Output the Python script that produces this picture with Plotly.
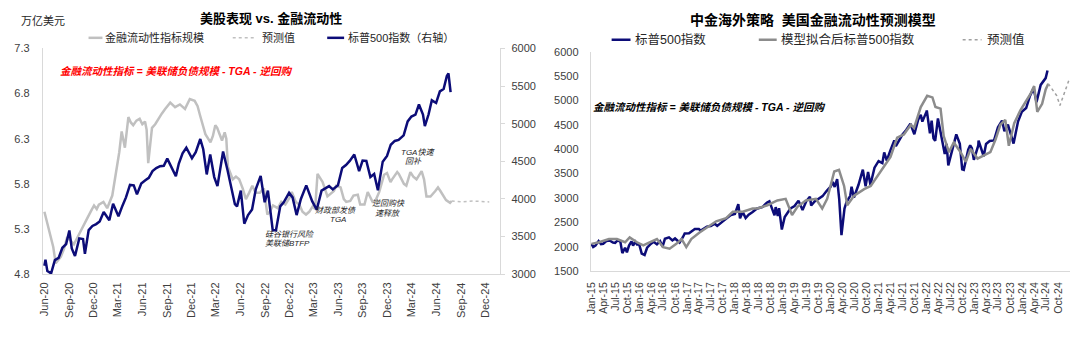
import plotly.graph_objects as go

# ---------------- data: left chart ----------------
liq_dates = ["2020-06-01","2020-06-13","2020-06-24","2020-07-04","2020-07-13","2020-07-22","2020-08-01","2020-08-13",
 "2020-08-25","2020-09-07","2020-09-19","2020-10-01","2020-10-14","2020-10-25","2020-11-08","2020-11-22","2020-12-03",
 "2020-12-13","2020-12-21","2021-01-07","2021-01-21","2021-02-09","2021-02-26","2021-03-07","2021-03-16","2021-03-28",
 "2021-04-10","2021-04-19","2021-04-28","2021-05-10","2021-05-22","2021-06-01","2021-06-11","2021-06-17","2021-06-23",
 "2021-07-01","2021-07-07","2021-07-19","2021-07-30","2021-08-13","2021-08-25","2021-09-13","2021-10-01","2021-10-19",
 "2021-11-07","2021-11-25","2021-12-13","2021-12-24","2022-01-02","2022-01-13","2022-01-22","2022-02-10","2022-02-19",
 "2022-02-28","2022-03-07","2022-03-16","2022-03-25","2022-04-04","2022-04-10","2022-04-16","2022-05-04","2022-05-16",
 "2022-05-28","2022-06-10","2022-06-22","2022-07-04","2022-07-16","2022-07-28","2022-08-13","2022-08-28","2022-09-10",
 "2022-09-19","2022-10-01","2022-10-19","2022-11-01","2022-11-16","2022-12-01","2022-12-10","2022-12-25","2023-01-07",
 "2023-01-19","2023-02-01","2023-02-13","2023-02-26","2023-03-07","2023-03-16","2023-04-04","2023-04-22","2023-05-01",
 "2023-05-16","2023-05-25","2023-06-10","2023-06-22","2023-07-01","2023-07-16","2023-07-28","2023-08-13","2023-08-22",
 "2023-09-07","2023-09-19","2023-10-07","2023-10-19","2023-11-01","2023-11-10","2023-11-19","2023-11-30","2023-12-13",
 "2023-12-19","2024-01-07","2024-01-13","2024-02-01","2024-02-10","2024-02-25","2024-03-07","2024-03-19","2024-04-07",
 "2024-04-16","2024-04-25","2024-05-10","2024-05-28","2024-06-07","2024-06-16","2024-06-28","2024-07-07","2024-07-22",
 "2024-07-28"]
liq_vals = [5.49,5.35,5.21,5.10,4.92,4.95,4.99,5.08,
 5.21,5.17,5.13,5.20,5.28,5.35,5.42,5.50,5.56,
 5.52,5.57,5.60,5.53,5.67,5.99,6.15,6.38,6.20,
 6.54,6.48,6.45,6.50,6.52,6.46,6.49,6.40,6.03,
 6.25,6.42,6.46,6.52,6.58,6.63,6.70,6.65,6.68,
 6.63,6.74,6.72,6.66,6.56,6.45,6.35,6.26,6.33,
 6.45,6.42,6.35,6.28,6.37,6.30,5.99,5.85,5.88,
 5.85,5.75,5.63,5.70,5.78,5.70,5.70,5.75,5.46,
 5.49,5.56,5.53,5.60,5.57,5.64,5.71,5.60,5.57,
 5.49,5.46,5.49,5.55,5.52,5.91,5.82,5.66,5.68,
 5.72,5.78,5.76,5.63,5.60,5.61,5.67,5.68,5.57,
 5.57,5.71,5.60,5.62,5.71,5.82,5.90,5.92,5.82,
 5.85,5.93,5.91,5.80,5.78,5.93,5.88,5.85,5.94,
 5.85,5.66,5.66,5.72,5.76,5.72,5.66,5.62,5.59,
 5.61]
liq_fc_dates = ["2024-07-28","2024-09-01","2024-10-15","2024-12-15"]
liq_fc_vals = [5.61,5.60,5.61,5.60]

spx_l_dates = ["2020-06-01","2020-06-05","2020-06-12","2020-06-26","2020-07-10","2020-07-24","2020-08-07","2020-08-21",
 "2020-09-02","2020-09-11","2020-09-23","2020-10-09","2020-10-23","2020-10-30","2020-11-13","2020-11-27","2020-12-11",
 "2020-12-24","2021-01-08","2021-01-29","2021-02-12","2021-03-04","2021-03-19","2021-04-01","2021-04-16","2021-04-30",
 "2021-05-12","2021-05-28","2021-06-11","2021-06-25","2021-07-09","2021-07-23","2021-08-06","2021-08-20","2021-09-02",
 "2021-09-17","2021-10-04","2021-10-15","2021-10-29","2021-11-12","2021-11-26","2021-12-03","2021-12-17","2021-12-31",
 "2022-01-03","2022-01-14","2022-01-27","2022-02-09","2022-02-24","2022-03-08","2022-03-29","2022-04-14","2022-04-29",
 "2022-05-12","2022-05-20","2022-06-03","2022-06-16","2022-06-30","2022-07-15","2022-07-29","2022-08-16","2022-08-31",
 "2022-09-12","2022-09-30","2022-10-12","2022-10-28","2022-11-10","2022-11-30","2022-12-13","2022-12-28","2023-01-13",
 "2023-02-02","2023-02-24","2023-03-13","2023-03-31","2023-04-14","2023-04-28","2023-05-12","2023-05-31","2023-06-16",
 "2023-06-30","2023-07-14","2023-07-31","2023-08-18","2023-08-31","2023-09-14","2023-09-29","2023-10-13","2023-10-27",
 "2023-11-14","2023-11-30","2023-12-14","2023-12-29","2024-01-12","2024-01-31","2024-02-15","2024-02-29","2024-03-15",
 "2024-03-28","2024-04-12","2024-04-19","2024-05-03","2024-05-15","2024-05-31","2024-06-14","2024-06-28","2024-07-10",
 "2024-07-16","2024-07-24"]
spx_l_vals = [3110,3190,3040,3010,3185,3215,3350,3400,
 3580,3340,3240,3475,3465,3270,3585,3640,3665,
 3700,3825,3715,3935,3770,3910,4020,4185,4180,
 4060,4205,4245,4280,4370,4410,4435,4440,4535,
 4430,4300,4470,4605,4680,4595,4540,4620,4766,
 4796,4660,4325,4590,4290,4170,4630,4390,4130,
 3930,3900,4110,3670,3785,3860,4130,4305,3955,
 4110,3585,3580,3900,3955,4080,4020,3785,3999,
 4180,3970,3855,4110,4140,4170,4125,4180,4410,
 4450,4505,4590,4370,4510,4505,4290,4330,4115,
 4495,4570,4720,4770,4785,4845,5030,5095,5120,
 5255,5120,4967,5125,5310,5275,5430,5460,5635,
 5667,5420]

# ---------------- data: right chart ----------------
spx_r_dates = ["2015-01-02","2015-01-15","2015-02-01","2015-02-25","2015-03-15","2015-04-01","2015-04-25","2015-05-20",
 "2015-06-15","2015-07-01","2015-07-20","2015-08-10","2015-08-25","2015-09-15","2015-09-29","2015-10-15","2015-11-03",
 "2015-11-15","2015-12-01","2015-12-15","2016-01-01","2016-01-20","2016-02-11","2016-03-01","2016-03-31","2016-04-20",
 "2016-05-15","2016-06-08","2016-06-27","2016-07-15","2016-08-15","2016-09-10","2016-09-30","2016-11-04","2016-11-30",
 "2016-12-13","2017-01-15","2017-02-28","2017-03-31","2017-04-15","2017-05-31","2017-06-30","2017-07-31","2017-08-18",
 "2017-09-30","2017-10-31","2017-11-30","2017-12-31","2018-01-26","2018-02-08","2018-02-28","2018-03-23","2018-04-15",
 "2018-05-15","2018-06-15","2018-07-31","2018-08-31","2018-09-20","2018-10-29","2018-11-07","2018-11-23","2018-12-03",
 "2018-12-24","2019-01-15","2019-02-28","2019-03-31","2019-04-30","2019-05-31","2019-06-30","2019-07-26","2019-08-05",
 "2019-08-31","2019-09-30","2019-10-31","2019-11-30","2019-12-31","2020-01-17","2020-01-31","2020-02-19","2020-03-06",
 "2020-03-23","2020-04-15","2020-04-30","2020-05-29","2020-06-08","2020-06-26","2020-07-31","2020-09-02","2020-09-23",
 "2020-10-12","2020-10-30","2020-11-30","2020-12-31","2021-01-29","2021-02-12","2021-03-04","2021-03-31","2021-04-30",
 "2021-05-12","2021-06-30","2021-07-30","2021-08-31","2021-09-30","2021-10-29","2021-11-18","2021-11-30","2021-12-31",
 "2022-01-03","2022-01-27","2022-02-09","2022-02-23","2022-03-08","2022-03-29","2022-04-14","2022-05-06","2022-05-20",
 "2022-06-03","2022-06-16","2022-07-08","2022-08-16","2022-09-12","2022-09-30","2022-10-12","2022-11-15","2022-11-30",
 "2022-12-13","2022-12-28","2023-01-31","2023-02-02","2023-03-13","2023-03-31","2023-04-28","2023-05-31","2023-06-30",
 "2023-07-31","2023-08-18","2023-09-14","2023-10-27","2023-11-30","2023-12-29","2024-01-31","2024-02-29","2024-03-28",
 "2024-04-19","2024-05-21","2024-06-28","2024-07-12"]
spx_r_vals = [2058,1992,2020,2115,2053,2060,2117,2126,
 2084,2077,2128,2104,1867,1978,1884,2023,2109,
 2023,2102,2043,2044,1859,1829,1978,2060,2102,
 2047,2112,2001,2162,2190,2128,2168,2085,2199,
 2271,2275,2364,2363,2329,2412,2423,2470,2425,
 2519,2575,2647,2673,2872,2581,2713,2588,2656,
 2711,2779,2816,2901,2930,2641,2813,2632,2790,
 2351,2610,2784,2834,2945,2752,2941,3025,2844,
 2926,2976,3037,3141,3231,3330,3225,3386,2972,
 2237,2783,2912,3044,3232,3009,3271,3580,3237,
 3534,3270,3622,3756,3714,3934,3768,3973,4181,
 4063,4297,4395,4523,4308,4605,4705,4567,4766,
 4796,4326,4587,4225,4170,4632,4392,4123,3901,
 4109,3667,3899,4305,4110,3586,3577,3992,4080,
 4020,3783,4077,4179,3856,4109,4169,4180,4450,
 4589,4370,4505,4117,4568,4770,4846,5096,5254,
 4967,5321,5460,5615]

model_dates = ["2015-01-01","2015-03-01","2015-05-15","2015-07-15","2015-09-15","2015-10-20","2015-12-15","2016-02-01",
 "2016-03-20","2016-05-15","2016-07-01","2016-08-20","2016-10-10","2016-11-20","2016-12-25","2017-02-01","2017-04-05",
 "2017-06-20","2017-08-10","2017-10-25","2017-12-15","2018-03-01","2018-05-15","2018-06-20","2018-09-05","2018-11-20",
 "2019-01-22","2019-03-12","2019-04-22","2019-06-25","2019-09-10","2019-10-28","2019-12-05","2020-01-28","2020-03-04",
 "2020-04-12","2020-05-06","2020-06-28","2020-09-12","2020-11-01","2020-12-22","2021-02-12","2021-04-01","2021-05-22",
 "2021-07-12","2021-09-03","2021-09-28","2021-11-18","2022-01-06","2022-02-15","2022-03-10","2022-04-18","2022-05-12",
 "2022-06-21","2022-07-28","2022-09-18","2022-10-28","2022-12-03","2023-01-25","2023-03-15","2023-05-03","2023-06-12",
 "2023-07-18","2023-08-25","2023-09-21","2023-11-01","2023-12-18","2024-01-25","2024-03-03","2024-04-01","2024-04-25",
 "2024-06-01","2024-06-28","2024-07-18"]
model_vals = [2057,2090,2155,2155,2090,2190,2090,2025,
 2090,2155,1991,1958,2057,2155,1991,2155,2289,
 2421,2520,2586,2718,2718,2784,2784,2850,2949,
 2982,2651,2817,2949,2982,2784,2982,3544,3577,
 3247,2850,3048,3180,3247,3445,3643,3841,4237,
 4303,4502,4436,4866,5097,5064,4866,4833,4270,
 3940,4138,3940,3742,4006,3808,3874,3940,4204,
 4502,4601,4072,4535,4799,4965,5130,5295,4766,
 4932,5229,5345]
model_fc_dates = ["2024-07-18","2024-09-20","2024-10-15","2024-12-28"]
model_fc_vals = [5345,5100,4900,5460]

left_ticks = [4.8, 5.3, 5.8, 6.3, 6.8, 7.3]

# ---------------- styling ----------------
W, H = 1080, 337
def px(x): return x / W
def py(y): return 1 - y / H

NAVY = "#0c0c78"
LGRAY = "#c0c0c0"
MGRAY = "#8c8c8c"
FONT = "Liberation Sans, Noto Sans CJK SC, sans-serif"
TICK = "#404040"
AXL = "#d9d9d9"

fig = go.Figure()
fig.add_trace(go.Scatter(x=liq_dates, y=liq_vals, mode="lines", xaxis="x", yaxis="y",
                         line=dict(color=LGRAY, width=2.5)))
fig.add_trace(go.Scatter(x=liq_fc_dates, y=liq_fc_vals, mode="lines", xaxis="x", yaxis="y",
                         line=dict(color=LGRAY, width=1.5, dash="dot")))
fig.add_trace(go.Scatter(x=spx_l_dates, y=spx_l_vals, mode="lines", xaxis="x", yaxis="y2",
                         line=dict(color=NAVY, width=2.5)))
fig.add_trace(go.Scatter(x=spx_r_dates, y=spx_r_vals, mode="lines", xaxis="x2", yaxis="y3",
                         line=dict(color=NAVY, width=2.5)))
fig.add_trace(go.Scatter(x=model_dates, y=model_vals, mode="lines", xaxis="x2", yaxis="y3",
                         line=dict(color=MGRAY, width=2.5)))
fig.add_trace(go.Scatter(x=model_fc_dates, y=model_fc_vals, mode="lines", xaxis="x2", yaxis="y3",
                         line=dict(color="#a0a0a0", width=1.5, dash="dot")))

xcommon = dict(type="date", dtick="M3", tickformat="%b-%y", tickangle=-90, showgrid=False,
               showline=True, linecolor=AXL, linewidth=1, ticks="", zeroline=False,
               tickfont=dict(family=FONT, size=11, color=TICK), ticklabelstandoff=3)
ycommon = dict(showgrid=False, zeroline=False, showline=True, linecolor=AXL, linewidth=1,
               tickfont=dict(family=FONT, size=11, color=TICK))

fig.update_layout(
    width=W, height=H, margin=dict(l=0, r=0, t=0, b=0),
    paper_bgcolor="white", plot_bgcolor="white", showlegend=False,
    font=dict(family=FONT),
    xaxis=dict(xcommon, domain=[px(37), px(497)], anchor="y",
               range=["2020-05-26", "2025-01-25"], tick0="2020-06-01"),
    yaxis=dict(ycommon, domain=[py(278), py(44)], anchor="x", range=[4.8, 7.3],
               tickvals=left_ticks, tickformat=".1f", ticks="", ticklabelstandoff=10),
    yaxis2=dict(ycommon, overlaying="y", side="right", anchor="x", range=[3000, 6000], dtick=500,
                ticks="outside", ticklen=4, tickcolor=AXL, ticklabelstandoff=4),
    xaxis2=dict(xcommon, domain=[px(588), px(1070)], anchor="y3",
                range=["2014-12-27", "2024-12-31"], tick0="2015-01-01",
                tickfont=dict(family=FONT, size=10.5, color=TICK), ticklabelstandoff=6),
    yaxis3=dict(ycommon, domain=[py(274.8), py(47.5)], anchor="x2", range=[1500, 6000], dtick=500,
                ticks="", ticklabelstandoff=9),
)

shapes = []
annots = []
def leg_line(x0, x1, y, color, dash="solid", width=2.5):
    shapes.append(dict(type="line", xref="paper", yref="paper", x0=px(x0), x1=px(x1),
                       y0=py(y), y1=py(y), line=dict(color=color, width=width, dash=dash)))
def text(x, y, s, size, color="#000000", xanchor="left", bold=False, italic=False):
    if bold:
        s = "<b>" + s + "</b>"
    if italic:
        s = "<i>" + s + "</i>"
    annots.append(dict(xref="paper", yref="paper", x=px(x), y=py(y), text=s, showarrow=False,
                       xanchor=xanchor, yanchor="middle",
                       font=dict(family=FONT, size=size, color=color)))

# left chart titles & legend
text(266, 13, "美股表现 vs. 金融流动性", 13, bold=True, xanchor="center")
text(13, 15.5, "万亿美元", 11, color="#262626")
leg_line(83, 97, 33, LGRAY)
text(98, 33, "金融流动性指标规模", 11, color="#262626")
leg_line(228, 252, 33, LGRAY, dash="dot", width=1.5)
text(255, 33, "预测值", 11, color="#262626")
leg_line(323, 340, 33, NAVY)
text(342, 33, "标普500指数（右轴）", 11, color="#262626")
text(52, 67, "金融流动性指标 = 美联储负债规模 - TGA - 逆回购", 10.5, color="#ff0000", bold=True, italic=True)
# event notes
text(285, 236.7, "硅谷银行风险", 8, color="#262626", xanchor="center", italic=True)
text(283, 246.7, "美联储BTFP", 8, color="#262626", xanchor="center", italic=True)
text(331, 211.7, "财政部发债", 8, color="#262626", xanchor="center", italic=True)
text(334, 221.5, "TGA", 8, color="#262626", xanchor="center", italic=True)
text(385, 205, "逆回购快", 8, color="#262626", xanchor="center", italic=True)
text(384, 215, "速释放", 8, color="#262626", xanchor="center", italic=True)
text(414, 151.7, "TGA快速", 8, color="#262626", xanchor="center", italic=True)
text(410, 161.7, "回补", 8, color="#262626", xanchor="center", italic=True)

# right chart titles & legend
text(812, 15, "中金海外策略  美国金融流动性预测模型", 14, bold=True, xanchor="center")
leg_line(609, 628, 35, NAVY)
text(630, 35, "标普500指数", 12.5, color="#262626")
leg_line(757, 775, 35, MGRAY)
text(777, 35, "模型拟合后标普500指数", 12.5, color="#262626")
leg_line(962, 981, 35, "#a0a0a0", dash="dot", width=1.5)
text(984, 35, "预测值", 12.5, color="#262626")
text(588, 104.7, "金融流动性指标 = 美联储负债规模 - TGA - 逆回购", 10.5, color="#000000", bold=True, italic=True)

fig.update_layout(shapes=shapes, annotations=annots)
fig.write_html("out.html")
